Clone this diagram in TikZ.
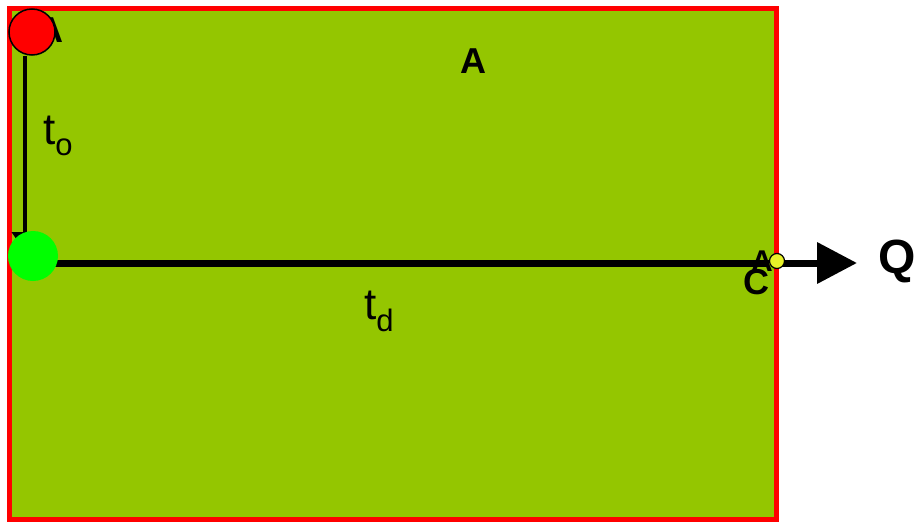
\documentclass[tikz,border=0pt]{standalone}
\usepackage{fontspec}
\setmainfont{Liberation Sans}
\usepackage{tikz}
\usetikzlibrary{arrows.meta,positioning}
\definecolor{fieldgreen}{RGB}{148,198,0}
\definecolor{dotyellow}{RGB}{232,242,40}
\pgfdeclarelayer{back}
\pgfsetlayers{back,main}

\begin{document}
\begin{tikzpicture}[x=1pt,y=-1pt,
  lbl/.style={inner sep=0pt,font=\fontsize{36}{36}\selectfont\bfseries},
  tlbl/.style={inner sep=0pt,anchor=base west,font=\fontsize{44}{44}\selectfont},
  dot/.style={circle,inner sep=0pt}]
 \useasboundingbox (0,0) rectangle (914,522);
 %NODES
 \node[lbl] (atop) at (50,30) {A};
 \node[dot,draw,line width=1.5pt,fill=red,minimum size=46pt] (src) at (32,32) {};
 \node[dot,fill=green,minimum size=50pt] (orig) at (33,256) {};
 \node[dot,draw,line width=1.2pt,fill=dotyellow,minimum size=15pt] (sink) at (777,261) {};
 \node[lbl] (amid) at (473,61) {A};
 \node[lbl,font=\fontsize{30}{30}\selectfont\bfseries] (aright) at (762,261) {A};
 \node[lbl,font=\fontsize{36}{36}\selectfont\bfseries] (cright) at (756,282) {C};
 \node[lbl,font=\fontsize{48}{48}\selectfont\bfseries] (qout) at (897,261) {Q};
 \node[tlbl] (tobs) at (43,144) {t\raisebox{-11pt}{\fontsize{31}{31}\selectfont o}};
 \node[tlbl] (tdel) at (364,319) {t\raisebox{-12pt}{\fontsize{31}{31}\selectfont d}};
 \coordinate (out) at (857,263);
 \begin{pgfonlayer}{back}
 \fill[white] (0,0) rectangle (914,522);
 \draw[red,line width=5pt,fill=fieldgreen] (9,8) rectangle (776,519);
 %EDGES
 \draw[line width=4pt,-{Triangle[length=20pt,width=26pt]},shorten >=4pt] ([xshift=-7pt]src.south) -- ([xshift=-8pt]orig.center);
 \draw[line width=7pt] ([yshift=-7pt]orig.center) -- ([yshift=-7pt]orig.center -| sink.west);
 \draw[line width=7pt,-{Triangle[length=40pt,width=40pt]}] ([yshift=-2pt]sink.center) -- (out);
 \end{pgfonlayer}
\end{tikzpicture}
\end{document}
